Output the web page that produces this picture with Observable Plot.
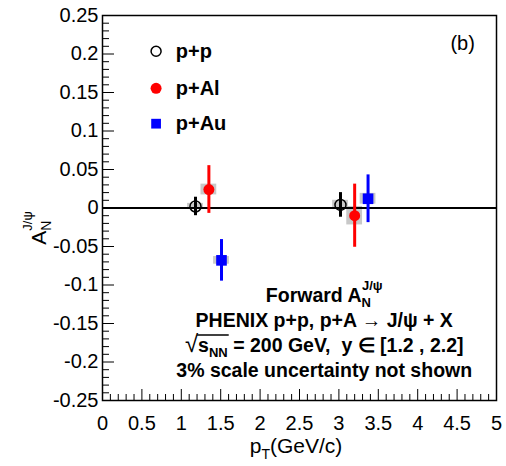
<!DOCTYPE html>
<html><head><meta charset="utf-8">
<script src="https://cdn.jsdelivr.net/npm/d3@7"></script>
<script src="https://cdn.jsdelivr.net/npm/@observablehq/plot@0.6"></script>
<style>body{margin:0;background:#fff;} svg{font-family:"Liberation Sans",Arial,Helvetica,sans-serif;}</style>
</head><body><div id="chart"></div>
<script>
// ---- data ----
const ppX = [1.18, 3.02];
const ppY = [0.002, 0.004];
const ppStat = [0.012, 0.016];
const ppSys = [0.004, 0.006];

const pAlX = [1.35, 3.2];
const pAlY = [0.024, -0.010];
const pAlStat = [0.031, 0.041];
const pAlSys = [0.007, 0.012];

const pAuX = [1.51, 3.37];
const pAuY = [-0.068, 0.012];
const pAuStat = [0.027, 0.031];
const pAuSys = [0.005, 0.007];

const xTickLabels = [0, 0.5, 1, 1.5, 2, 2.5, 3, 3.5, 4, 4.5, 5];
const yTickLabels = [-0.25, -0.2, -0.15, -0.1, -0.05, 0, 0.05, 0.1, 0.15, 0.2, 0.25];
const xMinor = d3.range(0, 51).map(i => i / 10);
const yMinor = d3.range(-25, 26).map(i => i / 100);

// ---- layout ----
const W = 506, H = 466, ML = 102, MR = 10, MT = 15, MB = 66;
const kx = (W - ML - MR) / 5, ky = (H - MT - MB) / 0.5;
const xMajLen = 11 / ky, xMinLen = 6 / ky, yMajLen = 12 / kx, yMinLen = 7 / kx;

const series = [
  {name: "p+p", xs: ppX, ys: ppY, stat: ppStat, sys: ppSys, color: "black"},
  {name: "p+Al", xs: pAlX, ys: pAlY, stat: pAlStat, sys: pAlSys, color: "#ff0000"},
  {name: "p+Au", xs: pAuX, ys: pAuY, stat: pAuStat, sys: pAuSys, color: "#0000ff"}
];
const pts = series.flatMap(s => s.xs.map((x, i) => ({name: s.name, x, y: s.ys[i], stat: s.stat[i], sys: s.sys[i], color: s.color})));
const boxHalf = 0.1;

const plot = Plot.plot({
  width: W, height: H,
  marginLeft: ML, marginRight: MR, marginTop: MT, marginBottom: MB,
  style: {fontFamily: '"Liberation Sans", Arial, sans-serif', background: "white", color: "black"},
  x: {domain: [0, 5]},
  y: {domain: [-0.25, 0.25]},
  marks: [
    Plot.rect(pts, {x1: d => d.x - boxHalf, x2: d => d.x + boxHalf, y1: d => d.y - d.sys, y2: d => d.y + d.sys, fill: "#c8c8c8"}),
    Plot.ruleY([0], {stroke: "black", strokeWidth: 2}),
    Plot.ruleX(pts, {x: "x", y1: d => d.y - d.stat, y2: d => d.y + d.stat, stroke: "color", strokeWidth: 3}),
    Plot.dot(pts.filter(d => d.name === "p+p"), {x: "x", y: "y", r: 5.5, stroke: "black", strokeWidth: 1.5, fill: "none"}),
    Plot.dot(pts.filter(d => d.name === "p+Al"), {x: "x", y: "y", r: 5.5, fill: "#ff0000"}),
    Plot.dot(pts.filter(d => d.name === "p+Au"), {x: "x", y: "y", r: 6, symbol: "square", fill: "#0000ff"}),
    // ticks (inward)
    Plot.ruleX(xMinor, {x: d => d, y1: -0.25, y2: d => -0.25 + (xTickLabels.includes(d) ? xMajLen : xMinLen), stroke: "black", strokeWidth: 1}),
    Plot.ruleY(yMinor, {y: d => d, x1: 0, x2: d => (yTickLabels.some(t => Math.abs(t - d) < 1e-9) ? yMajLen : yMinLen), stroke: "black", strokeWidth: 1}),
    Plot.axisX(xTickLabels, {tickSize: 0, tickPadding: 15, fontSize: 20, tickFormat: d => String(d), label: null}),
    Plot.axisY(yTickLabels, {tickSize: 0, tickPadding: 4, fontSize: 20, tickFormat: d => String(d), label: null}),
    Plot.frame({stroke: "black", strokeWidth: 1.5}),
    // legend
    Plot.dot([{x: 0.68, y: 0.2035}], {x: "x", y: "y", r: 5, stroke: "black", strokeWidth: 1.5, fill: "none"}),
    Plot.dot([{x: 0.68, y: 0.1555}], {x: "x", y: "y", r: 5.5, fill: "#ff0000"}),
    Plot.dot([{x: 0.68, y: 0.1095}], {x: "x", y: "y", r: 5.5, symbol: "square", fill: "#0000ff"}),
    Plot.text(series, {x: 0.93, y: (d, i) => [0.2035, 0.1555, 0.1095][i], text: "name", textAnchor: "start", fontSize: 20, fontWeight: "bold", fill: "black"}),
    Plot.text(["(b)"], {x: 4.57, y: 0.213, text: d => d, fontSize: 20, fill: "black"})
  ]
});
document.getElementById("chart").appendChild(plot);

const svg = d3.select(plot);
const sx = plot.scale("x");
const cx = sx.apply(2.82);
function line(y, build) {
  const t = svg.append("text").attr("x", cx).attr("y", y).attr("text-anchor", "middle")
    .attr("font-size", 19.5).attr("font-weight", "bold").attr("fill", "black");
  build(t);
  return t;
}
line(302, t => {
  t.append("tspan").text("Forward A");
  t.append("tspan").attr("font-size", 13).attr("dy", 5).text("N");
  t.append("tspan").attr("font-size", 13).attr("dx", -9).attr("dy", -17).text("J/ψ");
});
line(327, t => { t.text("PHENIX p+p, p+A → J/ψ + X"); });
let sTs, nnTs;
line(352, t => {
  t.append("tspan").attr("font-weight", "normal").attr("font-size", 24).text("√");
  sTs = t.append("tspan").text("s");
  nnTs = t.append("tspan").attr("font-size", 13).attr("dy", 5).text("NN");
  t.append("tspan").attr("dy", -5).text(" = 200 GeV,  y ∈ [1.2 , 2.2]");
});
line(377, t => { t.text("3% scale uncertainty not shown"); });

// overline for sqrt
try {
  const x0 = sTs.node().getStartPositionOfChar(0).x - 1;
  const x1 = nnTs.node().getEndPositionOfChar(1).x + 1;
  svg.append("line").attr("x1", x0).attr("x2", x1).attr("y1", 335).attr("y2", 335)
    .attr("stroke", "black").attr("stroke-width", 1.5);
} catch (e) {}

// x axis title
const xt = svg.append("text").attr("x", 296).attr("y", 453).attr("text-anchor", "middle").attr("font-size", 21).attr("fill", "black");
xt.append("tspan").text("p");
xt.append("tspan").attr("font-size", 14).attr("dy", 6).text("T");
xt.append("tspan").attr("dy", -6).text("(GeV/c)");

// y axis title
const yg = svg.append("g").attr("transform", "translate(46,210) rotate(-90)");
const yt = yg.append("text").attr("x", -18).attr("y", 0).attr("font-size", 21).attr("fill", "black");
yt.append("tspan").text("A");
yt.append("tspan").attr("font-size", 14).attr("dy", 5).text("N");
yt.append("tspan").attr("font-size", 13).attr("dx", -10).attr("dy", -19).text("J/ψ");
</script></body></html>
